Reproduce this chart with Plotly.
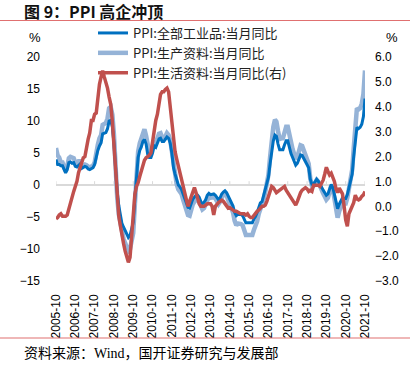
import pandas as pd
import plotly.graph_objects as go

# ---------------- data (monthly, 2005-10 .. 2021-10) ----------------
months = pd.date_range("2005-10-01", periods=193, freq="MS")

ppi_all = [
    4.0, 3.2, 3.2,
    3.0, 3.0, 2.5, 1.9, 2.4, 3.5, 3.6, 3.4, 3.5, 2.9, 2.8, 3.1,
    3.3, 2.6, 2.7, 2.9, 2.8, 2.5, 2.4, 2.6, 2.7, 3.2, 4.6, 5.4,
    6.1, 6.6, 8.0, 8.1, 8.2, 8.8, 10.0, 10.1, 9.1, 6.6, 2.0, -1.1,
    -3.3, -4.5, -6.0, -6.6, -7.2, -7.8, -8.2, -7.9, -7.0, -5.8, -2.1, 1.7,
    4.3, 5.4, 5.9, 6.8, 7.1, 6.4, 4.8, 4.3, 4.3, 5.0, 6.1, 5.9,
    6.6, 7.2, 7.3, 6.8, 6.8, 7.1, 7.5, 7.3, 6.5, 5.0, 2.7, 1.7,
    0.7, 0.0, -0.3, -0.7, -1.4, -2.1, -2.9, -3.5, -3.6, -2.8, -2.2, -1.9,
    -1.6, -1.6, -1.9, -2.6, -2.9, -2.7, -2.3, -1.6, -1.3, -1.5, -1.4, -1.4,
    -1.6, -2.0, -2.3, -2.0, -1.4, -1.1, -0.9, -1.2, -1.8, -2.2, -2.7, -3.3,
    -4.3, -4.8, -4.6, -4.6, -4.6, -4.8, -5.4, -5.9, -5.9, -5.9, -5.9, -5.9,
    -5.3, -4.9, -4.3, -3.4, -2.8, -2.6, -1.7, -0.8, 0.1, 1.2, 3.3, 5.5,
    6.9, 7.8, 7.6, 6.4, 5.5, 5.5, 5.5, 6.3, 6.9, 6.9, 5.8, 4.9,
    4.3, 3.7, 3.1, 3.4, 4.1, 4.7, 4.6, 4.1, 3.6, 3.3, 2.7, 0.9,
    0.1, 0.1, 0.4, 0.9, 0.6, 0.0, -0.3, -0.8, -1.2, -1.6, -1.4, -0.5,
    0.1, -0.4, -1.5, -3.1, -3.7, -3.0, -2.4, -2.0, -2.1, -2.1, -1.5, -0.4,
    0.3, 1.7, 4.4, 6.8, 9.0, 8.8, 9.0, 9.5, 10.7, 13.5,
]

ppi_producer = [
    5.8, 4.6, 4.3,
    3.5, 3.5, 2.9, 2.2, 2.9, 4.2, 4.4, 4.2, 4.2, 3.5, 3.4, 3.7,
    3.7, 2.9, 3.0, 3.2, 3.1, 2.8, 2.7, 2.9, 3.0, 3.5, 5.2, 6.3,
    7.3, 7.8, 9.4, 9.6, 9.7, 10.4, 12.0, 12.2, 11.0, 7.9, 2.3, -1.9,
    -4.6, -6.0, -7.7, -8.4, -9.1, -9.8, -10.3, -10.0, -8.9, -7.5, -3.0, 1.7,
    5.2, 6.5, 7.2, 8.3, 8.7, 7.7, 5.7, 5.0, 5.0, 5.8, 6.9, 6.6,
    7.4, 8.0, 8.1, 7.4, 7.5, 7.6, 8.1, 7.8, 7.0, 5.3, 2.4, 1.4,
    0.1, -0.7, -1.0, -1.4, -2.3, -3.1, -4.0, -4.7, -4.8, -3.8, -3.0, -2.6,
    -2.3, -2.2, -2.6, -3.4, -3.8, -3.6, -3.0, -2.2, -1.8, -2.0, -1.9, -1.9,
    -2.1, -2.6, -3.0, -2.6, -1.9, -1.5, -1.3, -1.6, -2.4, -2.9, -3.6, -4.3,
    -5.6, -6.3, -6.0, -6.0, -6.1, -6.3, -7.1, -7.8, -7.8, -7.8, -7.8, -7.8,
    -7.0, -6.5, -5.7, -4.5, -3.7, -3.4, -2.3, -1.1, 0.1, 1.6, 4.4, 7.2,
    9.1, 10.2, 9.9, 8.4, 7.2, 7.3, 7.3, 8.2, 9.1, 9.1, 7.7, 6.4,
    5.6, 4.8, 4.1, 4.4, 5.4, 6.2, 6.1, 5.4, 4.8, 4.3, 3.3, 1.0,
    -0.1, -0.1, 0.3, 0.8, 0.5, -0.3, -0.7, -1.3, -1.8, -2.3, -2.0, -0.8,
    -0.1, -0.7, -2.2, -4.3, -5.1, -4.1, -3.3, -2.8, -2.9, -2.9, -2.0, -0.7,
    0.4, 2.4, 5.7, 9.1, 12.0, 11.8, 12.0, 12.7, 14.2, 17.9,
]

ppi_consumer = [
    -0.5, -0.45, -0.35,
    -0.3, -0.4, -0.4, -0.4, -0.35, -0.1, 0.1, 0.45, 0.6, 0.8, 1.0, 1.35,
    1.6, 1.85, 1.95, 2.0, 2.4, 2.7, 2.95, 3.45, 3.45, 3.7, 3.75, 4.4,
    4.9, 5.2, 5.45, 5.2, 5.0, 4.75, 4.4, 4.1, 3.4, 2.5, 1.7, 0.5,
    -0.4, -0.8, -1.2, -1.5, -1.8, -2.1, -2.25, -2.05, -1.3, -0.5, 0.5, 0.8,
    0.95, 1.2, 1.45, 1.7, 1.85, 1.95, 2.0, 2.05, 2.15, 2.6, 3.1, 3.45,
    3.7, 4.1, 4.5, 4.6, 4.6, 4.7, 4.75, 4.6, 4.0, 3.2, 2.6, 2.2,
    1.9, 1.6, 1.4, 1.1, 0.8, 0.5, 0.2, 0.0, 0.2, 0.4, 0.6, 0.75,
    0.55, 0.25, 0.1, 0.0, 0.0, 0.0, 0.05, 0.1, 0.1, 0.1, 0.0, -0.35,
    0.0, 0.1, 0.15, 0.2, 0.25, 0.2, 0.1, 0.0, -0.07, -0.05, -0.1, -0.15,
    -0.2, -0.2, -0.25, -0.27, -0.3, -0.3, -0.3, -0.35, -0.3, -0.4, -0.45, -0.45,
    -0.35, -0.25, -0.2, -0.15, -0.05, 0.0, 0.0, 0.05, 0.2, 0.4, 0.6, 0.8,
    0.75, 0.65, 0.55, 0.6, 0.65, 0.7, 0.75, 0.8, 0.65, 0.55, 0.45, 0.35,
    0.3, 0.15, 0.05, 0.2, 0.4, 0.55, 0.65, 0.7, 0.75, 0.7, 0.6, 0.65,
    0.6, 0.85, 0.85, 0.85, 0.85, 0.8, 0.9, 1.05, 1.3, 1.57, 1.4, 1.26,
    1.33, 1.2, 1.0, 0.7, 0.55, 0.73, 0.6, 0.5, 0.0, -0.55, -0.8, -0.3,
    -0.15, 0.0, 0.15, 0.45, 0.3, 0.26, 0.3, 0.4, 0.46, 0.6,
]

year_ticks = pd.date_range("2005-10-01", "2021-10-01", freq="12MS")
tick_labels = [d.strftime("%Y-%m") for d in year_ticks]

names = ["PPI:全部工业品:当月同比", "PPI:生产资料:当月同比", "PPI:生活资料:当月同比(右)"]

# ---------------- geometry helpers ----------------
W, H = 412, 365
L, R, T, B = 56, 47, 57, 84
PW, PH = W - L - R, H - T - B


def px(x):
    return (x - L) / PW


def py(y):
    return (H - B - y) / PH


fig = go.Figure()
fig.add_trace(go.Scatter(x=months, y=ppi_producer, name=names[1], mode="lines",
                         line=dict(color="#95B3D7", width=4.5), legendrank=2))
fig.add_trace(go.Scatter(x=months, y=ppi_all, name=names[0], mode="lines",
                         line=dict(color="#0070C0", width=3), legendrank=1))
fig.add_trace(go.Scatter(x=months, y=ppi_consumer, name=names[2], mode="lines",
                         line=dict(color="#C0504D", width=3.5), legendrank=3,
                         yaxis="y2"))

tick_font = dict(family="Liberation Sans, Arial, sans-serif", size=12, color="#000000")

fig.update_layout(
    width=W, height=H,
    margin=dict(l=L, r=R, t=T, b=B, pad=0, autoexpand=False),
    paper_bgcolor="white", plot_bgcolor="white",
    showlegend=True,
    legend=dict(
        x=px(93), y=py(18), xanchor="left", yanchor="top",
        bgcolor="rgba(0,0,0,0)",
        font=dict(family="Noto Sans CJK SC, Noto Sans, sans-serif", size=13, color="#222222"),
        traceorder="normal", tracegroupgap=0, itemwidth=30,
    ),
    xaxis=dict(
        type="date",
        range=[months[0], months[-1]],
        tickmode="array", tickvals=list(year_ticks), ticktext=tick_labels,
        tickangle=-90, tickfont=tick_font,
        showgrid=False, showline=False, zeroline=False,
        ticks="", ticklabelstandoff=10, automargin=False,
    ),
    yaxis=dict(
        range=[-15, 20], dtick=5, tick0=0,
        showgrid=False, showline=False,
        zeroline=True, zerolinecolor="#D9D9D9", zerolinewidth=1.5,
        tickfont=tick_font, ticks="", ticklabelstandoff=15, automargin=False,
    ),
    yaxis2=dict(
        range=[-3, 6], dtick=1, tick0=0, tickformat=".1f",
        overlaying="y", side="right",
        showgrid=False, showline=False, zeroline=False,
        tickfont=tick_font, ticks="", ticklabelstandoff=9, automargin=False,
    ),
)

# small year ticks on the zero line (axis decoration)
for d in year_ticks:
    fig.add_shape(type="line", xref="x", yref="y", x0=d, x1=d, y0=0, y1=0.6,
                  line=dict(color="#D9D9D9", width=1), layer="below")

# title, unit labels, source
fig.add_annotation(text="<b>图 9：PPI 高企冲顶</b>", xref="paper", yref="paper",
                   x=px(22), y=py(11), xanchor="left", yanchor="middle", showarrow=False,
                   font=dict(family="Noto Sans CJK SC, sans-serif", size=16, color="#111111"))
fig.add_annotation(text="%", xref="paper", yref="paper", x=px(35), y=py(37),
                   xanchor="center", yanchor="middle", showarrow=False,
                   font=dict(family="Liberation Sans, Arial, sans-serif", size=13, color="#000000"))
fig.add_annotation(text="%", xref="paper", yref="paper", x=px(392), y=py(37),
                   xanchor="center", yanchor="middle", showarrow=False,
                   font=dict(family="Liberation Sans, Arial, sans-serif", size=13, color="#000000"))
fig.add_annotation(text="资料来源：Wind，国开证券研究与发展部", xref="paper", yref="paper",
                   x=px(22), y=py(353), xanchor="left", yanchor="middle", showarrow=False,
                   font=dict(family="Liberation Serif, Noto Sans CJK SC, serif", size=14, color="#000000"))

# red separator lines
for yy in (20.5, 338):
    fig.add_shape(type="line", xref="paper", yref="paper",
                  x0=px(0), x1=px(410), y0=py(yy), y1=py(yy),
                  line=dict(color="#E07070", width=1.2))

fig.write_html("out.html",
               config={"displayModeBar": False},
               post_script="document.body.style.margin='0';document.body.style.padding='0';")
